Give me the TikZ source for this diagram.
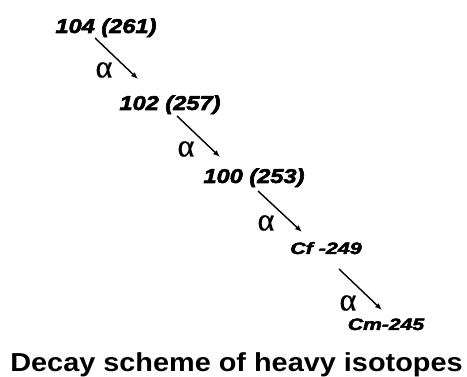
\documentclass[tikz,border=0pt]{standalone}
\usepackage{fontspec}
\usepackage{graphicx}
\usetikzlibrary{arrows.meta}
\setmainfont{Liberation Sans}
\newfontfamily\isofont{Liberation Sans}[UprightFont={* Bold Italic}, FakeBold=2.6]
\newfontfamily\greekfont{Liberation Serif}[FakeBold=0.8]
\begin{document}
\begin{tikzpicture}[x=1pt, y=-1pt,
  iso/.style={inner sep=0pt, anchor=base, font=\isofont\fontsize{20}{20}\selectfont},
  isosmall/.style={inner sep=0pt, anchor=base, font=\isofont\fontsize{16.5}{16.5}\selectfont},
  alphalbl/.style={inner sep=0pt, anchor=center, font=\greekfont\fontsize{32}{32}\selectfont},
  decay/.style={line width=1.4pt, -{Latex[length=7pt, width=5.5pt]}},
  caption/.style={inner sep=0pt, anchor=base, font=\bfseries\fontsize{26}{26}\selectfont}]
\useasboundingbox (0,0) rectangle (467,377);

% isotopes in the decay chain
\node[iso] (e104) at (106,33) {\scalebox{1.18}[1]{104 (261)}};
\node[iso] (e102) at (170,110) {\scalebox{1.18}[1]{102 (257)}};
\node[iso] (e100) at (254,183) {\scalebox{1.18}[1]{100 (253)}};
\node[isosmall] (cf) at (326,254) {\scalebox{1.3}[1]{Cf -249}};
\node[isosmall] (cm) at (386,330) {\scalebox{1.28}[1]{Cm-245}};

% alpha decay steps
\draw[decay] ([shift={(-11,5)}]e104.base) -- ([shift={(-32,-31)}]e102.base);
\draw[decay] ([shift={(7,6)}]e102.base) -- ([shift={(-34,-26)}]e100.base);
\draw[decay] ([shift={(4,8)}]e100.base) -- ([shift={(-24,-22)}]cf.base);
\draw[decay] ([shift={(13,15)}]cf.base) -- ([shift={(-4,-20)}]cm.base);

\node[alphalbl] (a1) at (104,70) {α};
\node[alphalbl] (a2) at (186,149) {α};
\node[alphalbl] (a3) at (266,223) {α};
\node[alphalbl] (a4) at (348,303) {α};

% caption
\node[caption] (title) at (236.5,371.5) {\scalebox{1.11}[1]{Decay scheme of heavy isotopes}};
\end{tikzpicture}
\end{document}
